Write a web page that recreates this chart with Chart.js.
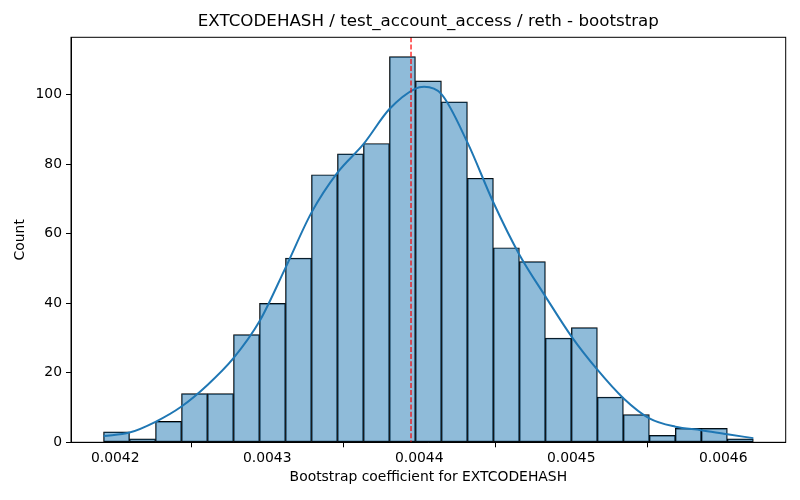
<!DOCTYPE html>
<html>
<head>
<meta charset="utf-8">
<script src="https://cdn.jsdelivr.net/npm/chart.js@4/dist/chart.umd.min.js"></script>
<style>
html,body{margin:0;padding:0;background:#fff;}
#wrap{width:800px;height:500px;}
</style>
</head>
<body>
<div id="wrap"><canvas id="c" width="800" height="500"></canvas></div>
<script>
// ---- data ----
const binStart = 0.0041923;
const binWidth = 0.0000171;
const counts = [3, 1, 6, 14, 14, 31, 40, 53, 77, 83, 86, 111, 104, 98, 76, 56, 52, 30, 33, 13, 8, 2, 4, 4, 1];
const kdeX = [0.0041923, 0.0042094, 0.0042265, 0.0042436, 0.0042607, 0.0042778, 0.0042949, 0.0043120,
              0.0043291, 0.0043462, 0.0043633, 0.0043804, 0.0043975, 0.0044032, 0.0044146, 0.0044317,
              0.0044488, 0.0044659, 0.0044830, 0.0045001, 0.0045172, 0.0045343, 0.0045514, 0.0045685,
              0.0045856, 0.0046027, 0.0046198];
const kdeY = [1.8, 2.8, 5.9, 10.3, 16.5, 24.2, 34.8, 50.2,
              66.1, 77.6, 85.8, 95.9, 101.8, 102.3, 100.2, 86.3,
              69.0, 54.0, 42.0, 30.5, 20.9, 12.7, 6.9, 4.5,
              3.5, 2.3, 1.2];
const meanLine = 0.0043946;
const xTicks = [0.0042, 0.0043, 0.0044, 0.0045, 0.0046];
const yTicks = [0, 20, 40, 60, 80, 100];
const xRange = [0.0041709, 0.0046411];
const yRange = [0, 116.55];
const titleText = 'EXTCODEHASH / test_account_access / reth - bootstrap';
const xLabel = 'Bootstrap coefficient for EXTCODEHASH';
const yLabel = 'Count';

const barData = counts.map((c, i) => ({x: binStart + binWidth * (i + 0.5), y: c}));
const kdeData = kdeX.map((x, i) => ({x: x, y: kdeY[i]}));

const FONT = 'DejaVu Sans';

const overlay = {
  id: 'overlay',
  afterDatasetsDraw(chart) {
    const {ctx, chartArea: a, scales} = chart;
    const px = scales.x.getPixelForValue(meanLine);
    ctx.save();
    ctx.strokeStyle = '#ff0000';
    ctx.lineWidth = 1.2;
    ctx.setLineDash([5, 2.2]);
    ctx.beginPath();
    ctx.moveTo(px, a.top);
    ctx.lineTo(px, a.bottom);
    ctx.stroke();
    ctx.setLineDash([]);
    ctx.strokeStyle = '#000';
    ctx.lineWidth = 1;
    ctx.strokeRect(a.left, a.top, a.right - a.left, a.bottom - a.top);
    // axes title, centred over the plot area like matplotlib
    ctx.fillStyle = '#000';
    ctx.font = '16.7px "' + FONT + '"';
    ctx.textAlign = 'center';
    ctx.textBaseline = 'middle';
    ctx.fillText(titleText, (a.left + a.right) / 2, a.top - 15.5);
    ctx.restore();
  }
};

new Chart(document.getElementById('c'), {
  data: {
    datasets: [
      {
        type: 'line',
        data: kdeData,
        borderColor: '#1f77b4',
        borderWidth: 2,
        pointRadius: 0,
        cubicInterpolationMode: 'monotone',
        fill: false,
        order: 0
      },
      {
        type: 'bar',
        data: barData,
        backgroundColor: 'rgba(31,119,180,0.5)',
        borderColor: '#000',
        borderWidth: 0.8,
        borderSkipped: false,
        barPercentage: 1,
        categoryPercentage: 1,
        order: 1
      }
    ]
  },
  options: {
    responsive: false,
    animation: false,
    devicePixelRatio: 1,
    layout: {padding: {left: 0, right: 14.3, top: 37.3, bottom: 0}},
    plugins: {
      legend: {display: false},
      tooltip: {enabled: false},
      title: {display: false}
    },
    scales: {
      x: {
        type: 'linear',
        min: xRange[0],
        max: xRange[1],
        offset: false,
        afterBuildTicks: s => { s.ticks = xTicks.map(v => ({value: v})); },
        afterFit: s => { s.height = 57.7; },
        grid: {display: true, drawOnChartArea: false, drawTicks: true, tickLength: 5, color: '#000', lineWidth: 1},
        border: {display: true, color: '#000', width: 1},
        ticks: {
          color: '#000', font: {family: FONT, size: 13.9}, padding: 3, maxRotation: 0, autoSkip: false,
          callback: v => v.toFixed(4)
        },
        title: {display: true, text: xLabel, color: '#000', font: {family: FONT, size: 13.9}, padding: {top: 0, bottom: 14.7}}
      },
      y: {
        type: 'linear',
        min: yRange[0],
        max: yRange[1],
        afterBuildTicks: s => { s.ticks = yTicks.map(v => ({value: v})); },
        afterFit: s => { s.width = 71; },
        grid: {display: true, drawOnChartArea: false, drawTicks: true, tickLength: 5, color: '#000', lineWidth: 1},
        border: {display: true, color: '#000', width: 1},
        ticks: {color: '#000', font: {family: FONT, size: 13.9}, padding: 4, autoSkip: false},
        title: {display: true, text: yLabel, color: '#000', font: {family: FONT, size: 13.9}, padding: {top: 12.4, bottom: 0}}
      }
    }
  },
  plugins: [overlay]
});
</script>
</body>
</html>
